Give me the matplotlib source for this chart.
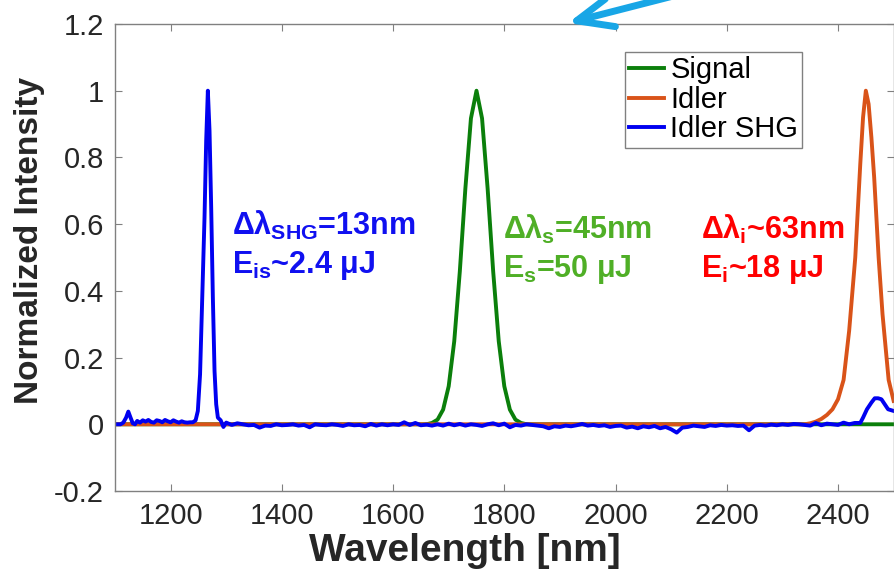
import matplotlib
matplotlib.use('Agg')
import matplotlib.pyplot as plt

# spectra (wavelength in nm, normalized intensity)
signal_wl = [1100, 1660, 1670, 1680, 1690, 1700, 1710, 1720, 1730, 1740, 1750,
             1760, 1770, 1780, 1790, 1800, 1810, 1820, 1830, 1840, 2500]
signal_int = [0.0, 0.0, 0.004, 0.014, 0.044, 0.114, 0.249, 0.458, 0.707, 0.917, 1.0,
              0.917, 0.707, 0.458, 0.249, 0.114, 0.044, 0.014, 0.004, 0.0, 0.0]

idler_wl = [1100, 2340, 2350, 2360, 2370, 2380, 2390, 2400, 2410, 2420, 2425, 2431,
            2440, 2445, 2450, 2455, 2460, 2465, 2473, 2480, 2491, 2500]
idler_int = [0.0, 0.0, 0.003, 0.008, 0.016, 0.028, 0.045, 0.075, 0.133, 0.28, 0.38, 0.5,
             0.78, 0.92, 1.0, 0.96, 0.86, 0.74, 0.5, 0.33, 0.133, 0.07]

shg_wl = [1100, 1105, 1110, 1115, 1120, 1124, 1128, 1132, 1136, 1140, 1145, 1150, 1155,
          1160, 1165, 1170, 1175, 1180, 1185, 1190, 1195, 1200, 1205, 1210, 1215, 1220,
          1225, 1230, 1235, 1240, 1245, 1249, 1253, 1257, 1261, 1264, 1267, 1270, 1273,
          1276, 1279, 1282, 1285, 1290, 1295, 1300,
          1310, 1320, 1330, 1340, 1350, 1360, 1370, 1380, 1390, 1400, 1410, 1420, 1430,
          1440, 1450, 1460, 1470, 1480, 1490, 1500, 1510, 1520, 1530, 1540, 1550, 1560,
          1570, 1580, 1590, 1600, 1610, 1620, 1630, 1640, 1650, 1660, 1670, 1680, 1690,
          1700, 1710, 1720, 1730, 1740, 1750, 1760, 1770, 1780, 1790, 1800, 1810, 1820,
          1830, 1840, 1850, 1860, 1870, 1880, 1890, 1900, 1910, 1920, 1930, 1940, 1950,
          1960, 1970, 1980, 1990, 2000, 2010, 2020, 2030, 2040, 2050, 2060, 2070, 2080,
          2090, 2100, 2110, 2120, 2130, 2140, 2150, 2160, 2170, 2180, 2190, 2200, 2210,
          2220, 2230, 2240, 2250, 2260, 2270, 2280, 2290, 2300, 2310, 2320, 2330, 2340,
          2350, 2360, 2370, 2380, 2390, 2400, 2410, 2420, 2430, 2440, 2445, 2452, 2460,
          2466, 2472, 2478, 2484, 2490, 2500]
shg_int = [0.0, 0.0, 0.0, 0.005, 0.02, 0.038, 0.02, 0.003, 0.0, 0.01, 0.005, 0.012, 0.008,
           0.013, 0.007, 0.005, 0.012, 0.01, 0.006, 0.013, 0.009, 0.006, 0.012, 0.008, 0.005, 0.009,
           0.006, 0.005, 0.006, 0.006, 0.012, 0.04, 0.15, 0.38, 0.62, 0.85, 1.0, 0.88, 0.65,
           0.38, 0.16, 0.06, 0.02, 0.012, -0.008, 0.005,
           -0.002, 0.003, 0.0, -0.003, -0.002, -0.01, -0.004, -0.005, 0.0, -0.003, -0.002, 0.0, -0.004,
           -0.002, -0.009, 0.0, -0.002, -0.003, 0.0, -0.002, -0.005, 0.0, -0.003, -0.002, -0.006, 0.001,
           -0.004, 0.0, -0.003, 0.0, -0.002, 0.006, -0.002, 0.004, -0.003, -0.001, -0.004, 0.0, -0.004,
           0.002, -0.003, 0.001, -0.004, 0.0, -0.002, -0.005, 0.0, 0.003, -0.003, 0.002, -0.009, -0.002,
           -0.004, 0.0, -0.002, -0.004, -0.006, -0.012, -0.006, -0.008, -0.004, -0.006, -0.003, 0.001, -0.004,
           -0.002, -0.005, -0.003, -0.008, -0.005, -0.004, -0.01, -0.007, -0.012, -0.006, -0.009, -0.005, -0.012,
           -0.008, -0.015, -0.025, -0.01, -0.008, -0.004, -0.006, -0.008, -0.003, -0.005, -0.002, -0.004, -0.003,
           -0.005, -0.004, -0.018, -0.004, -0.002, -0.004, -0.001, -0.003, 0.0, -0.002, 0.001, 0.0, -0.002,
           -0.004, 0.004, -0.003, 0.002, 0.0, -0.002, 0.005, 0.0, 0.004, 0.004, 0.02, 0.045, 0.065,
           0.078, 0.078, 0.075, 0.06, 0.045, 0.04]

xticks = [1200, 1400, 1600, 1800, 2000, 2200, 2400]
yticks = [-0.2, 0, 0.2, 0.4, 0.6, 0.8, 1, 1.2]
ytick_labels = ['-0.2', '0', '0.2', '0.4', '0.6', '0.8', '1', '1.2']

plt.rcParams['font.family'] = ['Liberation Sans', 'DejaVu Sans']
plt.rcParams['mathtext.fontset'] = 'custom'
plt.rcParams['mathtext.rm'] = 'Liberation Sans:bold'
plt.rcParams['mathtext.it'] = 'Liberation Sans:bold'
plt.rcParams['mathtext.bf'] = 'Liberation Sans:bold'

fig = plt.figure(figsize=(8.94, 5.71), dpi=100)
ax = fig.add_axes([0.1286, 0.1401, 0.871, 0.8179])

ax.plot(signal_wl, signal_int, color='#0B7F0B', lw=2.8, label='Signal')
ax.plot(idler_wl, idler_int, color='#D95319', lw=2.8, label='Idler')
ax.plot(shg_wl, shg_int, color='#0000F0', lw=2.8, label='Idler SHG')

ax.set_xlim(1100, 2500)
ax.set_ylim(-0.2, 1.2)
ax.set_xticks(xticks)
ax.set_yticks(yticks)
ax.set_yticklabels(ytick_labels)
ax.tick_params(direction='in', length=5, width=0.8, color='#808080', labelsize=21,
               labelcolor='#262626', top=True, right=True, pad=8)
for s in ax.spines.values():
    s.set_color('#808080')
    s.set_linewidth(1)

ax.set_xlabel('Wavelength [nm]', fontsize=28, fontweight='bold', color='#262626')
ax.set_ylabel('Normalized Intensity', fontsize=24, fontweight='bold', color='#262626')
ax.xaxis.set_label_coords(0.449, -0.09)
ax.yaxis.set_label_coords(-0.09, 0.537)

leg = ax.legend(loc='upper left', bbox_to_anchor=(0.655, 0.94), borderaxespad=0,
                fontsize=21, fancybox=False, framealpha=1, edgecolor='#808080',
                handlelength=1.2, handletextpad=0.2, borderpad=0.15, labelspacing=0.05)
leg.get_frame().set_linewidth(1)

# annotations
ax.text(1311, 0.568, r'$\Delta\lambda_{SHG}$=13nm', color='#1010F0', fontsize=22,
        fontweight='bold', va='baseline')
ax.text(1311, 0.455, r'$E_{is}$~2.4 μJ', color='#1010F0', fontsize=22,
        fontweight='bold', va='baseline')
ax.text(1798, 0.555, r'$\Delta\lambda_{s}$=45nm', color='#4FAF26', fontsize=22,
        fontweight='bold', va='baseline')
ax.text(1798, 0.442, r'$E_{s}$=50 μJ', color='#4FAF26', fontsize=22,
        fontweight='bold', va='baseline')
ax.text(2153, 0.555, r'$\Delta\lambda_{i}$~63nm', color='#FF0000', fontsize=22,
        fontweight='bold', va='baseline')
ax.text(2153, 0.442, r'$E_{i}$~18 μJ', color='#FF0000', fontsize=22,
        fontweight='bold', va='baseline')

# blue arrow poking in from the top
ax.annotate('', xy=(568, 548), xycoords='figure pixels', xytext=(720, 587),
            textcoords='figure pixels', annotation_clip=False,
            arrowprops=dict(arrowstyle='->,head_length=1.3,head_width=0.55',
                            mutation_scale=20, color='#18A6E6', lw=5,
                            shrinkA=0, shrinkB=0))

fig.savefig('out.png', dpi=100)
